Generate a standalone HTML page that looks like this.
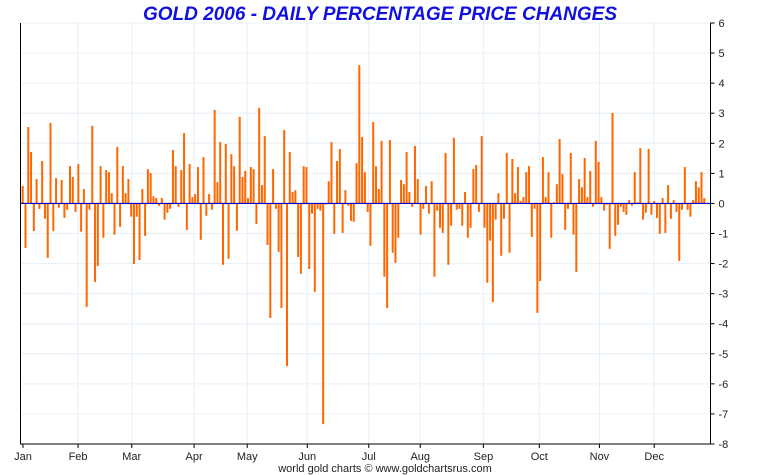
<!DOCTYPE html>
<html><head><meta charset="utf-8">
<style>
html,body{margin:0;padding:0;background:#fff;}
svg{display:block;font-family:"Liberation Sans",Arial,sans-serif;}
</style></head>
<body>
<svg id="chart" width="760" height="475" viewBox="0 0 760 475" xmlns="http://www.w3.org/2000/svg">
<text x="380" y="20" text-anchor="middle" font-size="19" font-weight="bold" font-style="italic" fill="#1010e0">GOLD 2006 - DAILY PERCENTAGE PRICE CHANGES</text>
<g id="grid"></g>
<g id="bars"></g>
<g id="axes"></g>
<text x="385" y="472" text-anchor="middle" font-size="11" fill="#222">world gold charts © www.goldchartsrus.com</text>
</svg>
<script>
const changes = [
0.58,-1.48,2.54,1.71,-0.92,0.81,-0.18,1.41,-0.51,-1.81,2.68,-0.92,0.84,-0.14,0.78,-0.48,-0.21,1.24,0.88,-0.28,1.31,-0.94,0.48,-3.44,-0.21,2.58,-2.61,-2.08,1.24,-1.14,1.11,1.04,0.34,-1.04,1.88,-0.78,1.24,0.34,0.81,-0.44,-2.01,-0.44,-1.88,0.48,-1.08,1.14,1.01,0.24,0.18,-0.08,0.18,-0.54,-0.31,-0.18,1.78,1.24,-0.11,1.11,2.34,-0.88,1.31,0.21,0.31,
1.21,-1.21,1.54,-0.41,0.31,-0.21,3.11,0.71,2.04,-2.04,1.98,-1.84,1.64,1.24,-0.91,2.88,0.88,1.08,0.18,1.21,1.14,-0.68,3.18,0.61,2.24,-1.38,-3.81,1.14,-0.18,-1.61,-3.48,2.44,-5.41,1.71,0.38,0.44,-1.78,-2.34,1.24,1.21,-2.18,-0.34,-2.94,-0.18,-0.24,-7.34,-0.04,0.74,2.04,-1.01,1.41,1.81,-0.98,0.44,-0.08,-0.58,-0.61,1.34,4.6,2.21,1.04,-0.28,-1.41,
2.71,1.24,0.48,2.08,-2.44,-3.48,2.11,-1.64,-1.98,-1.14,0.78,0.64,1.71,0.38,-0.11,1.91,0.81,-1.04,-0.18,0.58,-0.34,0.74,-2.44,-0.24,-0.81,-0.98,1.68,-2.04,-0.74,2.18,-0.21,-0.18,-0.74,0.38,-1.14,-0.81,1.14,1.28,-0.28,2.24,-0.81,-2.64,-1.24,-3.28,-0.54,0.34,-1.74,-0.51,1.68,-1.64,1.48,0.34,1.21,0.08,0.21,1.04,1.24,-1.11,-0.18,-3.64,-2.58,1.54,0.21,1.04,
-1.14,0.04,0.64,2.14,0.98,-0.88,-0.18,1.68,-1.04,-2.28,0.81,0.54,1.51,0.21,1.08,-0.11,2.08,1.38,0.21,-0.24,-0.04,-1.51,3.01,-1.08,-0.71,-0.11,-0.28,-0.38,0.11,-0.08,1.04,0.04,1.84,-0.54,-0.31,1.81,-0.38,0.08,-0.48,-1.01,0.18,-0.98,0.61,-0.51,0.11,-0.28,-1.91,-0.21,1.21,-0.21,-0.44,0.11,0.74,0.54,1.04,0.18
];
const yTicks = [6,5,4,3,2,1,0,-1,-2,-3,-4,-5,-6,-7,-8];
const months = ["Jan","Feb","Mar","Apr","May","Jun","Jul","Aug","Sep","Oct","Nov","Dec"];
const monthStartIdx = [0.1,19.9,39.2,61.6,80.7,102.3,124.4,142.9,165.6,185.7,207.3,227.0];

const NS="http://www.w3.org/2000/svg";
const L=20.5,R=710.5,T=23,B=444,yMax=6,yMin=-8;
const yS=v=>T+(yMax-v)*(B-T)/(yMax-yMin);
const x0=22.7,step=2.782;
const xIdx=i=>x0+i*step;
function mk(tag,attrs,parent){const e=document.createElementNS(NS,tag);for(const k in attrs)e.setAttribute(k,attrs[k]);parent.appendChild(e);return e;}
const grid=document.getElementById('grid'),bars=document.getElementById('bars'),axes=document.getElementById('axes');
yTicks.forEach(v=>{
  const y=yS(v);
  const g=mk('line',{x1:L,x2:R,y1:y,y2:y,stroke:'#e6f0f8','stroke-width':1},grid);
  
  
  const t=mk('line',{x1:R,x2:R+4,y1:y,y2:y,stroke:'#000','stroke-width':1},axes);
  
  
  const tx=mk('text',{x:R+8,y:y+4,'font-size':11,fill:'#222'},axes);
  tx.textContent=v;
  
  
});
months.forEach((m,i)=>{
  const x=xIdx(monthStartIdx[i]);
  if(i>0){const g=mk('line',{x1:x,x2:x,y1:T,y2:B,stroke:'#e6f0f8','stroke-width':1},grid);
  
  }
  const t=mk('line',{x1:x,x2:x,y1:B,y2:B+4,stroke:'#000','stroke-width':1},axes);
  
  
  const tx=mk('text',{x:x,y:B+16,'text-anchor':'middle','font-size':11,fill:'#222'},axes);
  tx.textContent=m;
  
  
});
const y0=yS(0);
changes.forEach((v,i)=>{
  const x=xIdx(i),y=yS(v);
  const r=mk('rect',{x:x-1,y:Math.min(y,y0),width:2,height:Math.max(Math.abs(y-y0),0.6),fill:'#ff6600'},bars);
  
  
});
const zl=mk('line',{x1:L,x2:R,y1:y0,y2:y0,stroke:'#0000cc','stroke-width':1.2},axes);


const fr=mk('path',{d:`M${L},${T}V${B}H${R}V${T}`,fill:'none',stroke:'#000','stroke-width':1},axes);


</script>
</body></html>
